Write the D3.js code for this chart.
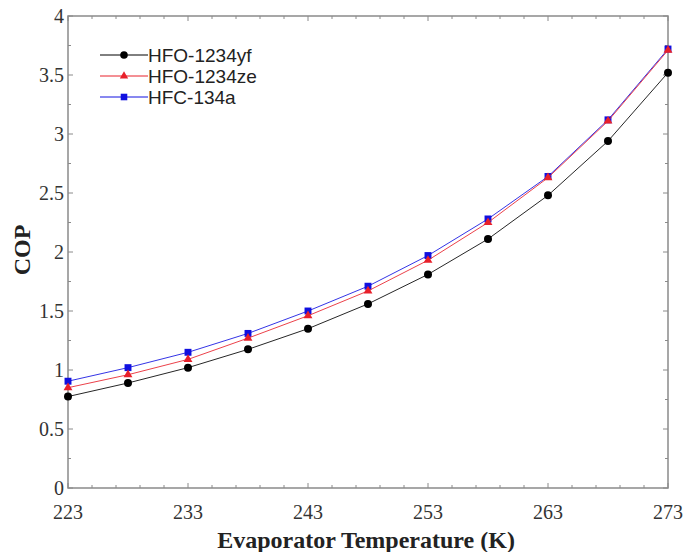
<!DOCTYPE html>
<html><head><meta charset="utf-8">
<script src="https://cdn.jsdelivr.net/npm/d3@7"></script>
<style>body{margin:0;background:#fff}</style>
</head><body>
<svg id="c" width="684" height="552"></svg>
<script>
const temps = [223, 228, 233, 238, 243, 248, 253, 258, 263, 268, 273];
const copYf = [0.775, 0.89, 1.02, 1.175, 1.35, 1.56, 1.81, 2.11, 2.48, 2.94, 3.52];
const copZe = [0.85, 0.96, 1.09, 1.27, 1.46, 1.67, 1.93, 2.25, 2.63, 3.11, 3.71];
const cop134a = [0.905, 1.02, 1.15, 1.31, 1.50, 1.71, 1.97, 2.28, 2.64, 3.12, 3.72];
const seriesNames = ["HFO-1234yf", "HFO-1234ze", "HFC-134a"];
const xTicks = [223, 233, 243, 253, 263, 273];
const yTicks = [0, 0.5, 1, 1.5, 2, 2.5, 3, 3.5, 4];

const svg = d3.select("#c");
const L = 68, R = 668, T = 16, B = 488;
const x = d3.scaleLinear().domain([223, 273]).range([L, R]);
const y = d3.scaleLinear().domain([0, 4]).range([B, T]);
const axisCol = "#8a8a8a";

// frame
svg.append("rect").attr("x", L).attr("y", T).attr("width", R - L).attr("height", B - T)
  .attr("fill", "none").attr("stroke", axisCol).attr("stroke-width", 1.5);

// ticks
const g = svg.append("g").attr("stroke", axisCol).attr("stroke-width", 1);
const xMinor = d3.range(223, 273.01, 2);
xMinor.forEach(v => {
  const maj = xTicks.includes(v);
  const len = maj ? 5 : 3;
  g.append("line").attr("x1", x(v)).attr("x2", x(v)).attr("y1", B).attr("y2", B - len);
  g.append("line").attr("x1", x(v)).attr("x2", x(v)).attr("y1", T).attr("y2", T + len);
});
const yMinor = d3.range(0, 4.01, 0.25);
yMinor.forEach(v => {
  const maj = Math.abs(v * 2 - Math.round(v * 2)) < 1e-6;
  const len = maj ? 5 : 3;
  g.append("line").attr("y1", y(v)).attr("y2", y(v)).attr("x1", L).attr("x2", L + len);
  g.append("line").attr("y1", y(v)).attr("y2", y(v)).attr("x1", R).attr("x2", R - len);
});

// tick labels
const serif = "'Liberation Serif','Times New Roman',serif";
svg.append("g").selectAll("text").data(xTicks).join("text")
  .attr("x", d => x(d)).attr("y", B + 31).attr("text-anchor", "middle")
  .attr("font-family", serif).attr("font-size", 20).attr("fill", "#333").text(d => d);
svg.append("g").selectAll("text").data(yTicks).join("text")
  .attr("x", L - 4).attr("y", d => y(d) + 7).attr("text-anchor", "end")
  .attr("font-family", serif).attr("font-size", 20).attr("fill", "#333").text(d => d);

// axis titles
svg.append("text").attr("x", 366).attr("y", 548).attr("text-anchor", "middle")
  .attr("font-family", serif).attr("font-weight", "bold").attr("font-size", 24).attr("fill", "#222")
  .text("Evaporator Temperature  (K)");
svg.append("text").attr("transform", "translate(30,250) rotate(-90)").attr("text-anchor", "middle")
  .attr("font-family", serif).attr("font-weight", "bold").attr("font-size", 24).attr("fill", "#222")
  .text("COP");

const series = [
  {name: seriesNames[2], vals: cop134a, color: "#1010e0", shape: d3.symbolSquare, size: 48},
  {name: seriesNames[1], vals: copZe, color: "#e8202a", shape: d3.symbolTriangle, size: 34},
  {name: seriesNames[0], vals: copYf, color: "#000", shape: d3.symbolCircle, size: 50}
];
const line = d3.line().x((d, i) => x(temps[i])).y(d => y(d));
series.forEach(s => {
  svg.append("path").attr("d", line(s.vals)).attr("fill", "none")
    .attr("stroke", s.color).attr("stroke-width", 1).attr("opacity", 0.85);
  svg.append("g").selectAll("path").data(s.vals).join("path")
    .attr("transform", (d, i) => `translate(${x(temps[i])},${y(d)})`)
    .attr("d", d3.symbol().type(s.shape).size(s.size)).attr("fill", s.color);
});

// legend
const legOrder = [series[2], series[1], series[0]];
const lg = svg.append("g");
legOrder.forEach((s, i) => {
  const ly = 55 + i * 21;
  lg.append("line").attr("x1", 100).attr("x2", 148).attr("y1", ly).attr("y2", ly)
    .attr("stroke", s.color).attr("stroke-width", 1);
  lg.append("path").attr("transform", `translate(124,${ly})`)
    .attr("d", d3.symbol().type(s.shape).size(s.size * 0.9)).attr("fill", s.color);
  lg.append("text").attr("x", 148).attr("y", ly + 7)
    .attr("font-family", "'Liberation Sans',Arial,sans-serif").attr("font-size", 19).attr("fill", "#222")
    .text(s.name);
});
</script>
</body></html>
